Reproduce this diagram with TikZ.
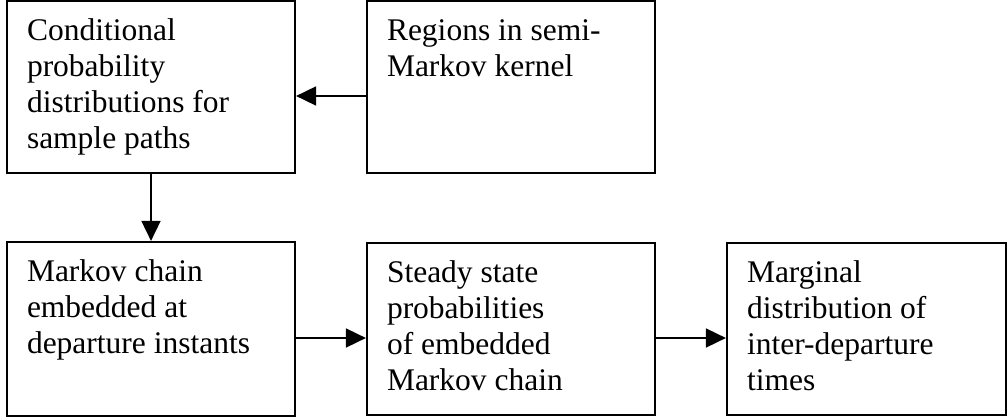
\documentclass[tikz,border=0pt]{standalone}
\usepackage{fontspec}
\setmainfont{Liberation Serif}
\usetikzlibrary{calc,arrows.meta}
\def\blktext#1#2#3{\parbox[c][#2][t]{#1}{\raggedright\strut #3}}

\begin{document}
\begin{tikzpicture}[x=0.5pt, y=0.5pt,
	blk/.style={draw, line width=1.1pt, inner xsep=10pt, inner ysep=7pt, font=\fontsize{15.75}{18}\selectfont},
	arr/.style={line width=0.9pt, -{Triangle[length=10pt, width=9.5pt]}}]
		%%%%% START %%%%%
		
		\useasboundingbox (0, 0) rectangle (1008, 418);
		
		\node[blk] (cond) at (151, 331) {\blktext{124pt}{72pt}{Conditional\\probability\\distributions for\\sample paths}};
		\node[blk] (rgn) at (511, 331) {\blktext{124pt}{72pt}{Regions in semi-\\Markov kernel}};
		
		\node[blk] (emb) at (151, 89) {\blktext{124pt}{73pt}{Markov chain\\embedded at\\departure instants}};
		\node[blk] (ssp) at (511, 89) {\blktext{124pt}{72pt}{Steady state\\probabilities\\of embedded\\Markov chain}};
		\node[blk] (marg) at (866.5, 89) {\blktext{119.5pt}{72pt}{Marginal\\distribution of\\inter-departure\\times}};
		
		\draw[arr] ($(rgn.west)+(0, -9)$) -- ($(cond.east)+(0, -9)$);
		\draw[arr] (cond.south) -- (emb.north);
		\draw[arr] ($(emb.east)+(0, -9)$) -- ($(ssp.west)+(0, -9)$);
		\draw[arr] ($(ssp.east)+(0, -9)$) -- ($(marg.west)+(0, -9)$);
		
		%%%%% END %%%%%
	\end{tikzpicture}
\end{document}
